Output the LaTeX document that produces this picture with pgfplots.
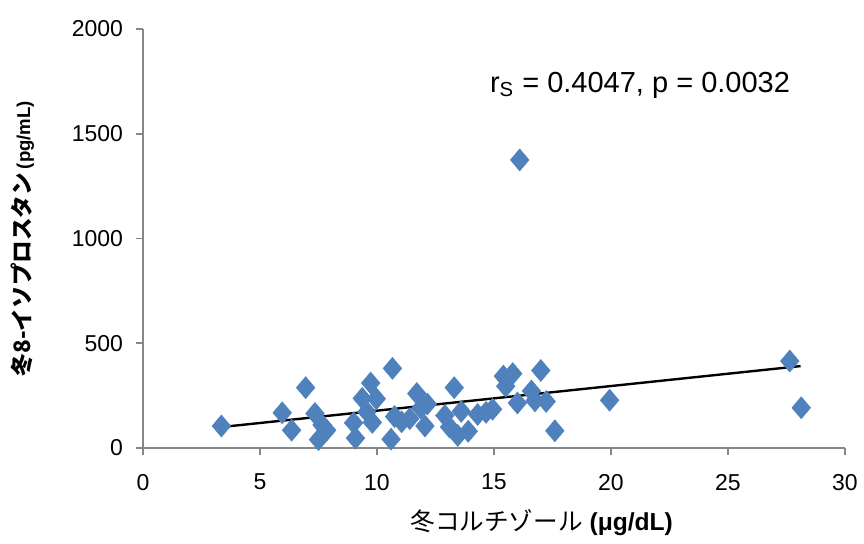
\documentclass[border=0pt]{standalone}
\usepackage{pgfplots}
\pgfplotsset{compat=1.18}
\usepackage{fontspec}
\setmainfont{Liberation Sans}
\newfontfamily\jp{Noto Sans CJK JP}
\definecolor{excelblue}{HTML}{4F81BD}
\definecolor{axisgray}{HTML}{878787}
\begin{document}
\begin{tikzpicture}
\useasboundingbox (0,0) rectangle (432pt,271.5pt);
\begin{axis}[at={(71.5pt,47.5pt)}, anchor=south west,
  scale only axis, width=351pt, height=209.5pt,
  xmin=0, xmax=30, ymin=0, ymax=2000,
  axis x line*=bottom, axis y line*=left,
  xtick={0,5,...,30}, ytick={0,500,...,2000},
  tick align=outside, major tick length=3.5pt,
  axis line style={axisgray, line width=0.8pt},
  tick style={axisgray, line width=0.8pt},
  tick label style={font=\fontsize{11.5}{13}\selectfont},
  xticklabel style={yshift=-6pt},
  yticklabel style={xshift=-3pt},
  /pgf/number format/assume math mode=true,
  /pgf/number format/1000 sep={},
  xlabel={{\jp 冬コルチゾール} \textbf{(μg/dL)}},
  ylabel={{\jp\bfseries 冬8-イソプロスタン}\,\textbf{\fontsize{9.3}{11}\selectfont (pg/mL)}},
  xlabel style={at={(axis description cs:0.568,-0.179)}, anchor=center, font=\fontsize{12.3}{14}\selectfont},
  ylabel style={at={(axis description cs:-0.172,0.5)}, anchor=center, rotate=0, font=\fontsize{11.3}{13}\selectfont},
  clip=false]
\addplot[only marks, mark=diamond*, mark size=5.4pt,
  mark options={excelblue, xscale=1.13}] coordinates {
  (3.35,105) (5.95,168) (6.35,85) (6.95,288) (7.35,165) (7.65,110)
  (7.5,40) (7.85,85) (9.0,120) (9.08,47) (9.37,237) (9.73,310)
  (9.8,122) (9.97,235) (9.57,172) (10.66,380) (10.6,42) (10.75,150)
  (11.05,125) (11.4,140) (11.7,260) (11.87,190) (12.05,105) (12.15,210)
  (13.3,288) (12.9,155) (13.1,100) (13.45,60) (13.6,175) (13.9,80)
  (14.3,160) (14.66,170) (14.94,185) (15.4,343) (15.8,355) (15.5,295)
  (16.0,215) (16.6,272) (16.75,225) (17.0,370) (17.23,222) (17.6,82)
  (19.94,228) (16.1,1375) (27.64,415) (28.13,192)
};
\addplot[black, line width=1.2pt] coordinates {(3.35,100) (28.1,391)};
\node[font=\fontsize{14.5}{17}\selectfont] at (axis cs:21.24,1733)
  {r\textsubscript{S} = 0.4047, p = 0.0032};
\end{axis}
\end{tikzpicture}
\end{document}
